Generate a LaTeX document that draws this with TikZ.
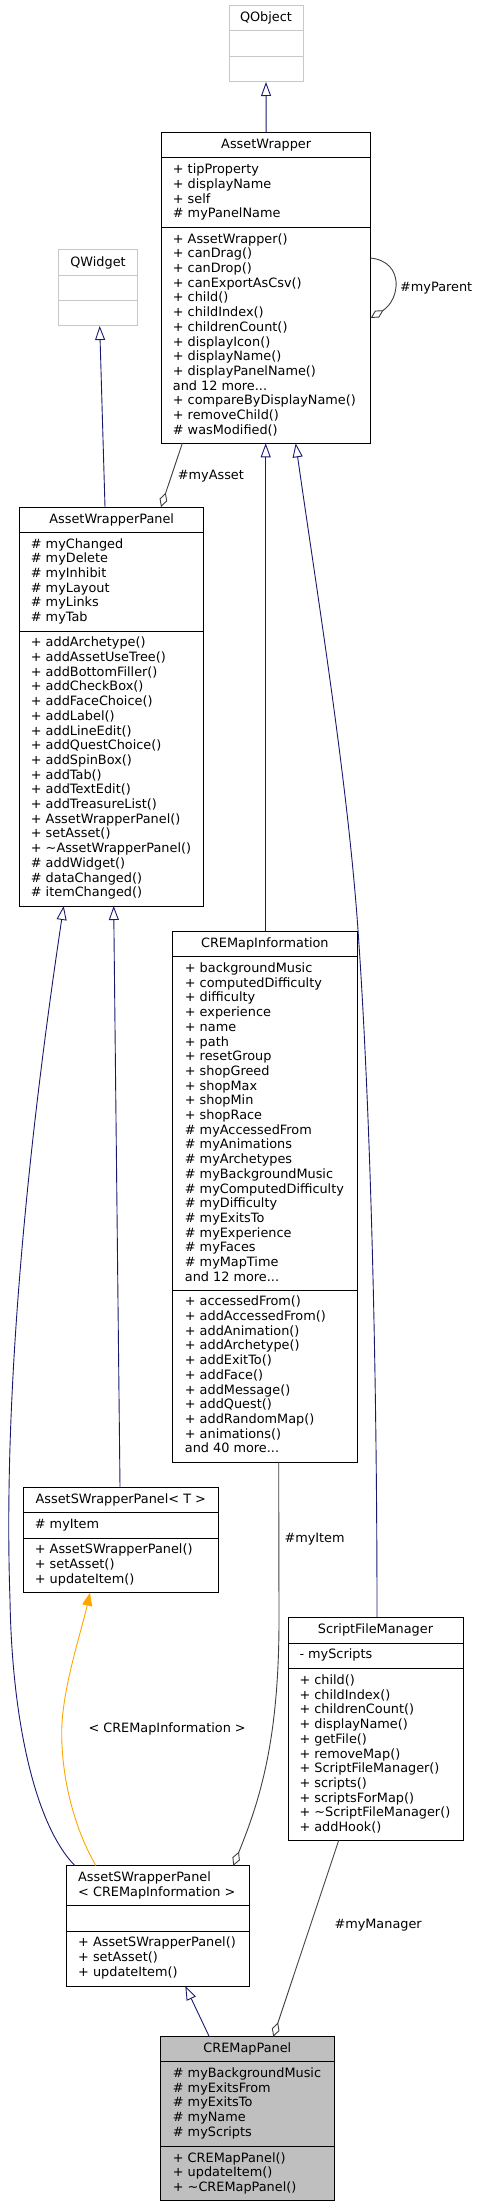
\documentclass[tikz,border=0pt]{standalone}
\usepackage{fontspec}
\newfontfamily\dv{DejaVu Sans}
\usetikzlibrary{arrows.meta}
\definecolor{mblue}{HTML}{191970}
\definecolor{agray}{HTML}{404040}
\definecolor{lgray}{HTML}{BFBFBF}
\definecolor{qgray}{HTML}{C8C8C8}
\definecolor{orng}{HTML}{FFA500}
\newcommand\df{\dv\fontsize{12.85pt}{14.7pt}\selectfont}
\newcommand\mdots{...}
\newcommand\cbox[6][box]{%
  \node[#1, minimum width={(#4-#2)*1pt}, minimum height={(#5-#3)*1pt}] (#6) at ({(#2+#4)/2},{(#3+#5)/2}) {};}
\newcommand\csep[3][black]{\draw[draw=#1, line width=1pt] (#2.west |- 0,#3) -- (#2.east |- 0,#3);}
\newcommand\lns[4]{\foreach \t [count=\i from 0] in {#4} {\node[txt] (#1-\i) at (#2, {#3+\i*14.7}) {\t};}}
\begin{document}
\begin{tikzpicture}[x=1pt,y=-1pt,
  box/.style={draw=black, line width=1pt, fill=white, inner sep=0, outer sep=0},
  gbox/.style={draw=qgray, line width=1pt, fill=white, inner sep=0, outer sep=0},
  fbox/.style={draw=black, line width=1pt, fill=lgray, inner sep=0, outer sep=0},
  txt/.style={anchor=base west, inner sep=0, font=\df, text=black},
  ttl/.style={anchor=base, inner sep=0, font=\df, text=black},
  inh/.style={draw=mblue, line width=0.9pt, -{Triangle[open, length=14pt, width=10pt, line width=0.9pt]}},
  agg/.style={draw=agray, line width=0.9pt, -{Diamond[open, length=15pt, width=8pt, line width=0.9pt]}},
  tpl/.style={draw=orng, line width=0.9pt, -{Triangle[length=13pt, width=10pt]}},
  lbl/.style={anchor=base west, inner sep=0, font=\df, text=black}]
\useasboundingbox (0,0) rectangle (478,2207);

% QObject
\cbox[gbox]{229}{6}{303}{82}{qo}
\csep[qgray]{qo}{31}\csep[qgray]{qo}{57}
\node[ttl] (qo-t) at (266,21.5) {QObject};

% QWidget
\cbox[gbox]{58.7}{250}{137.3}{326}{qw}
\csep[qgray]{qw}{275.3}\csep[qgray]{qw}{300.7}
\node[ttl] (qw-t) at (98,266.5) {QWidget};

% AssetWrapper
\cbox{161.7}{132.7}{370.7}{443.3}{aw}
\csep{aw}{158}\csep{aw}{227.3}
\node[ttl] (aw-t) at (266.2,148.7) {AssetWrapper};
\lns{awa}{172.7}{173.8}{+ tipProperty, + displayName, + self, \# myPanelName}
\lns{awm}{172.7}{243.1}{+ AssetWrapper(), + canDrag(), + canDrop(), + canExportAsCsv(), + child(), + childIndex(), + childrenCount(), + displayIcon(), + displayName(), + displayPanelName(), and 12 more\mdots, + compareByDisplayName(), + removeChild(), \# wasModified()}

% AssetWrapperPanel
\cbox{19.7}{507}{203.7}{906}{awp}
\csep{awp}{532.3}\csep{awp}{631}
\node[ttl] (awp-t) at (111.7,523) {AssetWrapperPanel};
\lns{awpa}{30.7}{548.1}{\# myChanged, \# myDelete, \# myInhibit, \# myLayout, \# myLinks, \# myTab}
\lns{awpm}{30.7}{646.8}{+ addArchetype(), + addAssetUseTree(), + addBottomFiller(), + addCheckBox(), + addFaceChoice(), + addLabel(), + addLineEdit(), + addQuestChoice(), + addSpinBox(), + addTab(), + addTextEdit(), + addTreasureList(), + AssetWrapperPanel(), + setAsset(), + \textasciitilde AssetWrapperPanel(), \# addWidget(), \# dataChanged(), \# itemChanged()}

% CREMapInformation
\cbox{172.7}{931.3}{357}{1462}{cmi}
\csep{cmi}{956.7}\csep{cmi}{1290}
\node[ttl] (cmi-t) at (264.85,947.3) {CREMapInformation};
\lns{cmia}{184.7}{972.5}{+ backgroundMusic, + computedDifficulty, + difficulty, + experience, + name, + path, + resetGroup, + shopGreed, + shopMax, + shopMin, + shopRace, \# myAccessedFrom, \# myAnimations, \# myArchetypes, \# myBackgroundMusic, \# myComputedDifficulty, \# myDifficulty, \# myExitsTo, \# myExperience, \# myFaces, \# myMapTime, and 12 more\mdots}
\lns{cmim}{184.7}{1305.8}{+ accessedFrom(), + addAccessedFrom(), + addAnimation(), + addArchetype(), + addExitTo(), + addFace(), + addMessage(), + addQuest(), + addRandomMap(), + animations(), and 40 more\mdots}

% AssetSWrapperPanel< T >
\cbox{23.3}{1487}{218.3}{1592.7}{aswt}
\csep{aswt}{1512.7}\csep{aswt}{1538}
\node[ttl] (aswt-t) at (120.8,1503) {AssetSWrapperPanel< T >};
\lns{aswta}{34.7}{1528.5}{\# myItem}
\lns{aswtm}{34.7}{1553.8}{+ AssetSWrapperPanel(), + setAsset(), + updateItem()}

% ScriptFileManager
\cbox{288}{1617}{463}{1840.3}{sfm}
\csep{sfm}{1643}\csep{sfm}{1668.7}
\node[ttl] (sfm-t) at (375.5,1633) {ScriptFileManager};
\lns{sfma}{299.3}{1658.8}{- myScripts}
\lns{sfmm}{299.3}{1684.5}{+ child(), + childIndex(), + childrenCount(), + displayName(), + getFile(), + removeMap(), + ScriptFileManager(), + scripts(), + scriptsForMap(), + \textasciitilde ScriptFileManager(), + addHook()}

% AssetSWrapperPanel< CREMapInformation >
\cbox{66.7}{1865.7}{249.3}{1986}{aswc}
\csep{aswc}{1905.7}\csep{aswc}{1931}
\lns{aswct}{78}{1881.7}{AssetSWrapperPanel, < CREMapInformation >}
\lns{aswcm}{78}{1946.8}{+ AssetSWrapperPanel(), + setAsset(), + updateItem()}

% CREMapPanel
\cbox[fbox]{160.7}{2036.7}{334}{2200.3}{cmp}
\csep{cmp}{2061.7}\csep{cmp}{2146.3}
\node[ttl] (cmp-t) at (247.35,2052.7) {CREMapPanel};
\lns{cmpa}{172.7}{2077.5}{\# myBackgroundMusic, \# myExitsFrom, \# myExitsTo, \# myName, \# myScripts}
\lns{cmpm}{172.7}{2162.1}{+ CREMapPanel(), + updateItem(), + \textasciitilde CREMapPanel()}

% ---- connectors ----
\draw[inh] (aw.north) -- (qo.south);
\draw[inh] ([xshift=85.3pt]awp.north west) -- ([xshift=41pt]qw.south west);
\draw[agg] ([yshift=30pt]aw.east) .. controls (405,262) and (400,300) .. ([yshift=-30pt]aw.east);
\node[lbl] (l-parent) at (400,291.5) {\#myParent};
\draw[agg] ([xshift=20.6pt]aw.south west) -- ([xshift=141.3pt]awp.north west);
\node[lbl] (l-asset) at (177.7,479) {\#myAsset};
\draw[inh] ([xshift=0.85pt]cmi.north) -- ([xshift=-0.5pt]aw.south);
\draw[inh] ([xshift=1.5pt]sfm.north) .. controls (377,1400) and (372,1130) .. (358,930) .. controls (347.5,780) and (317,593) .. ([xshift=134pt]aw.south west);
\draw[inh] ([xshift=8.3pt]aswc.north west) .. controls (35,1825) and (12,1720) .. (10,1600) .. controls (3,1400) and (26.2,1156) .. ([xshift=44pt]awp.south west);
\draw[inh] ([xshift=96.7pt]aswt.north west) -- ([xshift=94pt]awp.south west);
\draw[tpl] ([xshift=29.3pt]aswc.north west) .. controls (75,1830) and (61.7,1780) .. (61.7,1733) .. controls (61.7,1690) and (81,1633) .. ([xshift=66.7pt]aswt.south west);
\node[lbl] (l-tpl) at (88.3,1732.5) {< CREMapInformation >};
\draw[agg] ([xshift=13.85pt]cmi.south) -- (279,1620) .. controls (279,1740) and (260,1800) .. ([xshift=-16pt]aswc.north east);
\node[lbl] (l-item) at (284.3,1542.5) {\#myItem};
\draw[agg] ([xshift=-36.8pt]sfm.south) -- ([xshift=112.6pt]cmp.north west);
\node[lbl] (l-manager) at (334.3,1928.5) {\#myManager};
\draw[inh] ([xshift=48.6pt]cmp.north west) -- ([xshift=118.6pt]aswc.south west);
\end{tikzpicture}
\end{document}
